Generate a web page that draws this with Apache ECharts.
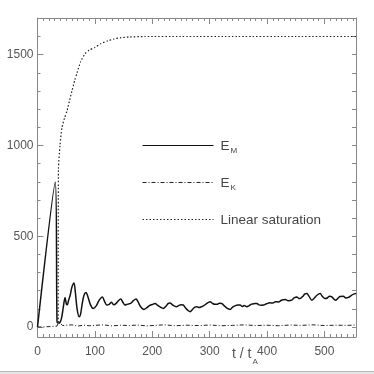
<!DOCTYPE html>
<html>
<head>
<meta charset="utf-8">
<script src="https://cdn.jsdelivr.net/npm/echarts@6/dist/echarts.min.js"></script>
<style>html,body{margin:0;padding:0;background:#fff;}#c{width:374px;height:374px;}</style>
</head>
<body>
<div id="c"></div>
<script>
// ---- data ----
var xMajorTicks = [0, 100, 200, 300, 400, 500];
var yMajorTicks = [0, 500, 1000, 1500];

var emT = [0, 31, 34, 36, 39, 42, 45, 48, 50.5, 52, 54, 57, 60, 63.6, 66, 69, 72.5, 75, 78, 81, 84.6, 88, 92, 97, 102, 107, 113, 117, 120.7, 125, 129, 133, 137, 141, 145, 149, 152.6, 157, 162, 167, 171.7, 175, 180, 185.5, 190, 195, 200, 205, 209, 214, 219, 224, 228, 231, 236, 242, 246, 250, 254, 258, 262, 266, 270, 274, 277.6, 282, 286, 289, 294, 298, 301, 305, 309, 312.5, 317, 321, 325, 330, 335.7, 340, 345, 349, 353, 357, 360, 364.8, 369, 373, 378, 382, 386, 390, 394, 399, 405, 410, 415, 420, 425, 431.6, 437, 443, 447, 452, 455, 457.6, 462, 466, 469.4, 473, 478, 482, 487, 492.6, 496, 501, 505, 509, 513, 517, 520, 524, 527, 533, 537, 542, 546, 550, 555];
var emV = [0, 797, 30, 22, 25, 50, 110, 162, 125, 122, 145, 175, 220, 243, 190, 100, 57, 70, 130, 175, 190, 165, 125, 102, 115, 145, 165, 140, 121, 125, 136, 122, 130, 145, 154, 135, 121, 126, 130, 145, 154, 140, 110, 97, 105, 118, 124, 130, 120, 110, 102, 115, 130, 132, 120, 112, 118, 122, 121, 105, 92, 84, 97, 110, 112, 107, 112, 116, 128, 136, 139, 130, 125, 125, 131, 130, 118, 104, 97, 110, 118, 121, 121, 113, 118, 112, 118, 126, 129, 130, 122, 120, 121, 128, 133, 132, 139, 138, 147, 152, 145, 148, 160, 166, 158, 157, 168, 182, 184, 170, 148, 158, 175, 184, 170, 157, 160, 170, 166, 152, 148, 160, 168, 170, 160, 163, 172, 180, 184];

var ekT = [0, 20, 34, 37, 40, 44, 50, 60, 70, 80, 90, 100, 115, 130, 145, 160, 175, 190, 205, 220, 240, 260, 280, 300, 320, 340, 360, 380, 400, 420, 440, 460, 480, 500, 520, 540, 555];
var ekV = [0, 2, 5, 28, 18, 8, 10, 12, 5, 10, 7, 9, 12, 6, 10, 8, 11, 6, 9, 12, 7, 10, 8, 11, 7, 9, 12, 8, 10, 7, 11, 9, 12, 8, 10, 9, 11];

var linT = [36, 36.5, 39.2, 42.7, 47, 51.4, 56, 60, 65, 68.9, 75, 82.8, 90, 100, 110, 123, 133, 144, 160, 187, 250, 350, 450, 555];
var linV = [25, 870, 1000, 1100, 1150, 1190, 1250, 1300, 1360, 1400, 1460, 1505, 1525, 1540, 1560, 1577, 1586, 1593, 1597, 1600, 1600, 1600, 1600, 1600];

var xMinorTicks = [];
for (var i = 0; i <= 550; i += 10) xMinorTicks.push(i);
var yMinorTicks = [];
for (var j = 0; j <= 1700; j += 100) yMinorTicks.push(j);

function pairs(t, v) { return t.map(function (x, k) { return [x, v[k]]; }); }

var X_MIN = 0, X_MAX = 555, Y_MIN = -55, Y_MAX = 1702;
var axisGray = '#888';
var labelColor = '#555';
var font = '"Liberation Sans", Arial, Helvetica, sans-serif';

function xAx(pos, ticks, len, labels, line) {
  return {
    type: 'value', position: pos, min: X_MIN, max: X_MAX,
    axisLine: { show: line, onZero: false, lineStyle: { color: axisGray, width: 1 } },
    axisTick: { show: true, inside: true, length: len, customValues: ticks, lineStyle: { color: axisGray } },
    axisLabel: labels ? { show: true, customValues: xMajorTicks, color: labelColor, fontSize: 12, fontFamily: font, margin: 9, formatter: function (v) { return String(v); } } : { show: false },
    splitLine: { show: false }
  };
}
function yAx(pos, ticks, len, labels, line) {
  return {
    type: 'value', position: pos, min: Y_MIN, max: Y_MAX,
    axisLine: { show: line, onZero: false, lineStyle: { color: axisGray, width: 1 } },
    axisTick: { show: true, inside: true, length: len, customValues: ticks, lineStyle: { color: axisGray } },
    axisLabel: labels ? { show: true, customValues: yMajorTicks, color: labelColor, fontSize: 12, fontFamily: font, margin: 4, formatter: function (v) { return String(v); } } : { show: false },
    splitLine: { show: false }
  };
}

var chart = echarts.init(document.getElementById('c'), null, { renderer: 'canvas' });
var rich = {
  e: { fontSize: 13.5, lineHeight: 19, verticalAlign: 'top', color: '#444', fontFamily: font, padding: [3, 0, 0, 2] },
  s: { fontSize: 8, lineHeight: 8, verticalAlign: 'top', color: '#444', fontFamily: font, padding: [10.5, 0, 0, 1] }
};
chart.setOption({
  animation: false,
  backgroundColor: '#fff',
  grid: { left: 37.5, right: 18, top: 18, bottom: 37, containLabel: false },
  xAxis: [
    xAx('bottom', xMajorTicks, 6, true, true),
    xAx('bottom', xMinorTicks, 3, false, false),
    xAx('top', xMajorTicks, 6, false, true),
    xAx('top', xMinorTicks, 3, false, false)
  ],
  yAxis: [
    yAx('left', yMajorTicks, 6, true, true),
    yAx('left', yMinorTicks, 3, false, false),
    yAx('right', yMajorTicks, 4, false, true),
    yAx('right', yMinorTicks, 4, false, false)
  ],
  legend: {
    show: true, orient: 'vertical', left: 137, top: 131,
    itemWidth: 71, itemHeight: 14, itemGap: 18.5,
    data: ['E_M', 'E_K', 'Linear saturation'],
    lineStyle: { width: 1 },
    itemStyle: { opacity: 0 },
    formatter: function (name) {
      if (name === 'E_M') return '{e|E}{s|M}';
      if (name === 'E_K') return '{e|E}{s|K}';
      return '{e|' + name + '}';
    },
    textStyle: { rich: rich, color: '#444', fontFamily: font }
  },
  series: [
    {
      name: 'E_M', type: 'line', data: pairs(emT, emV), symbol: 'none', smooth: 0.3,
      lineStyle: { color: '#111', width: 1.5, type: 'solid' }, itemStyle: { color: '#111' }
    },
    {
      name: 'E_K', type: 'line', data: pairs(ekT, ekV), symbol: 'none',
      lineStyle: { color: '#222', width: 1, type: [4, 2, 1, 2] }, itemStyle: { color: '#222' }
    },
    {
      name: 'Linear saturation', type: 'line', data: pairs(linT, linV), symbol: 'none', smooth: 0.2,
      lineStyle: { color: '#222', width: 1.2, type: [1.5, 2] }, itemStyle: { color: '#222' }
    }
  ],
  graphic: [
    { type: 'text', left: 232, top: 347, style: { text: 't / t', fill: labelColor, font: '14px ' + font } },
    { type: 'text', left: 252.5, top: 357.5, style: { text: 'A', fill: labelColor, font: '8px ' + font } },
    { type: 'rect', left: 0, top: 371, shape: { width: 374, height: 3 }, style: { fill: '#e4e4e4' } },
    { type: 'line', shape: { x1: 0, y1: 371.5, x2: 374, y2: 371.5 }, style: { stroke: '#b8b8b8', lineWidth: 1 } }
  ]
});
</script>
</body>
</html>
